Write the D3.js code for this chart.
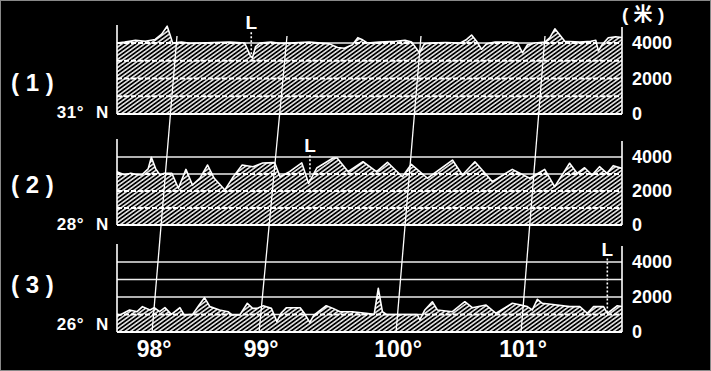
<!DOCTYPE html>
<html>
<head>
<meta charset="utf-8">
<script src="https://cdn.jsdelivr.net/npm/d3@7"></script>
<style>
  body { margin: 0; background: #000; }
  svg { display: block; }
</style>
</head>
<body>
<div id="chart"></div>
<script>
// longitudes, elevation ticks and labels
var lonTicks = [98, 99, 100, 101];
var elevTicks = [0, 2000, 4000];
var gridLevels = [1000, 2000, 3000, 4000];
var panelNames = ["( 1 )", "( 2 )", "( 3 )"];
var latNames = ["31°", "28°", "26°"];
var unitLabel = "( 米 )";

// terrain profiles: [longitude, elevation m]
var profile31 = [
  [97.51,4000],[97.58,4050],[97.68,4150],[97.77,4100],[97.86,4200],[97.92,4500],[97.97,4950],
  [98.00,4400],[98.02,4000],[98.10,4050],[98.18,3980],[98.27,4000],[98.40,4030],[98.54,4050],
  [98.68,4000],[98.73,3300],[98.75,3150],[98.78,3800],[98.82,4000],[98.92,4050],[99.00,3980],
  [99.07,4000],[99.22,4050],[99.37,3950],[99.43,3750],[99.48,3700],[99.54,3900],[99.58,4300],
  [99.61,4200],[99.65,4000],[99.74,4050],[99.86,4100],[99.93,4150],[99.98,4050],[100.04,3450],
  [100.08,3950],[100.13,4000],[100.25,4030],[100.37,4000],[100.42,4200],[100.46,4450],[100.50,4100],
  [100.54,3650],[100.58,3950],[100.65,4050],[100.77,4050],[100.83,4000],[100.87,3450],[100.91,3900],
  [100.97,4000],[101.05,4050],[101.09,4300],[101.13,4800],[101.17,4450],[101.21,4100],[101.33,4050],
  [101.42,4100],[101.46,4150],[101.48,3550],[101.51,3900],[101.56,4300],[101.62,4350],[101.67,4300]
];
var profile28 = [
  [97.59,3130],[97.66,2950],[97.72,3050],[97.76,2980],[97.82,2940],[97.88,3300],[97.91,3980],
  [97.95,3300],[97.99,2940],[98.03,3040],[98.10,3040],[98.16,2160],[98.23,3270],[98.29,2350],
  [98.36,2760],[98.43,3530],[98.49,2760],[98.59,2060],[98.66,2760],[98.75,3530],[98.85,3430],
  [98.94,3650],[99.04,3670],[99.08,2840],[99.15,3140],[99.24,3650],[99.29,2450],[99.35,3350],
  [99.47,3940],[99.50,3940],[99.58,3140],[99.69,3720],[99.79,3140],[99.87,3690],[99.98,2840],
  [100.05,3570],[100.18,2750],[100.38,3820],[100.46,2940],[100.56,3720],[100.70,2550],[100.86,3270],
  [101.00,2750],[101.12,3270],[101.20,2250],[101.32,3630],[101.38,3040],[101.44,3370],[101.50,2940],
  [101.56,3430],[101.62,3040],[101.67,3490],[101.74,3330]
];
var profile26 = [
  [97.67,1010],[97.70,970],[97.79,1260],[97.86,1160],[97.91,1450],[97.98,1260],[98.02,1390],
  [98.07,1160],[98.12,1390],[98.18,1010],[98.26,1390],[98.30,970],[98.38,1010],[98.44,1540],
  [98.49,1960],[98.54,1450],[98.63,1260],[98.71,1160],[98.75,970],[98.82,970],[98.89,1640],
  [98.94,1350],[98.98,1350],[99.03,1500],[99.09,1350],[99.13,590],[99.16,1070],[99.20,1390],
  [99.30,1390],[99.33,1070],[99.37,550],[99.40,970],[99.49,1500],[99.54,1350],[99.59,1160],
  [99.68,1160],[99.78,1070],[99.84,1010],[99.87,2500],[99.90,1160],[99.93,1000],[100.17,1000],
  [100.19,690],[100.23,1260],[100.29,1730],[100.33,1260],[100.45,1160],[100.55,1730],[100.61,1390],
  [100.72,1540],[100.80,1070],[100.93,1640],[100.99,1550],[101.05,1450],[101.09,1260],[101.13,1870],
  [101.17,1640],[101.39,1450],[101.47,1450],[101.53,1070],[101.58,1450],[101.66,1450],[101.69,1070],
  [101.77,1500],[101.81,1450]
];
var profiles = [profile31, profile28, profile26];
// "L" markers: [longitude, elevation where the dotted line starts]
var markerL = [[98.74, 4600], [99.30, 4100], [101.69, 4200]];

// layout
var W = 711, H = 371;
var left = 117, right = 622;
var panels = [
  {base: 114, top: 43, name: 91, lat: 118},
  {base: 225, top: 157, name: 193, lat: 230},
  {base: 332, top: 262, name: 293, lat: 330}
];
// slanted meridians: x at the top and bottom of the figure
var merTopY = 36, merBotY = 333;
var merTop = d3.scaleLinear().domain(lonTicks).range([177, 287, 421, 545]);
var merBot = d3.scaleLinear().domain(lonTicks).range([152, 259, 396, 521]);

function meridianX(lon, yy) {
  var t = (yy - merTopY) / (merBotY - merTopY);
  return merTop(lon) + (merBot(lon) - merTop(lon)) * t;
}
function panelX(yy) {
  return d3.scaleLinear().domain(lonTicks).range(lonTicks.map(function(l){ return meridianX(l, yy); }));
}

var FONT = "'Liberation Sans', Arial, Helvetica, sans-serif";
var svg = d3.select("#chart").append("svg")
    .attr("width", W).attr("height", H)
    .style("background", "#000");
var defs = svg.append("defs");

var pat = defs.append("pattern")
    .attr("id", "hatch")
    .attr("patternUnits", "userSpaceOnUse")
    .attr("width", 8).attr("height", 3.3)
    .attr("patternTransform", "rotate(-36)");
pat.append("rect").attr("width", 8).attr("height", 3.3).attr("fill", "#000");
pat.append("line")
    .attr("x1", 0).attr("y1", 1.65).attr("x2", 8).attr("y2", 1.65)
    .attr("stroke", "#e4e4e4").attr("stroke-width", 1.6);

// thin frame round the picture
svg.append("rect")
    .attr("x", 0.5).attr("y", 0.5).attr("width", W - 1).attr("height", H - 1)
    .attr("fill", "none").attr("stroke", "#888").attr("stroke-width", 1);

panels.forEach(function(p, i) {
  var y = d3.scaleLinear().domain([0, 4000]).range([p.base, p.top]);
  var x = panelX(p.base);
  var data = profiles[i];
  var area = d3.area().x(function(d){ return x(d[0]); }).y0(y(0)).y1(function(d){ return y(d[1]); });
  var line = d3.line().x(function(d){ return x(d[0]); }).y(function(d){ return y(d[1]); });

  defs.append("clipPath").attr("id", "panel" + i)
    .append("rect").attr("x", left).attr("y", 0).attr("width", right - left).attr("height", p.base + 1);
  defs.append("clipPath").attr("id", "land" + i)
    .append("path").attr("d", area(data));

  var g = svg.append("g");

  // grid lines (solid in the sky)
  g.append("g").selectAll("line")
    .data(gridLevels).enter().append("line")
    .attr("x1", left).attr("x2", right)
    .attr("y1", function(d){ return y(d); }).attr("y2", function(d){ return y(d); })
    .attr("stroke", "#eee").attr("stroke-width", 1.5);

  var land = g.append("g").attr("clip-path", "url(#panel" + i + ")");
  land.append("path").attr("d", area(data)).attr("fill", "url(#hatch)");

  // grid lines (dashed inside the hatched ground)
  g.append("g").attr("clip-path", "url(#land" + i + ")").selectAll("line")
    .data(gridLevels).enter().append("line")
    .attr("x1", left).attr("x2", right)
    .attr("y1", function(d){ return y(d); }).attr("y2", function(d){ return y(d); })
    .attr("stroke", "#fff").attr("stroke-width", 2)
    .attr("stroke-dasharray", "5,2");

  land.append("path").attr("d", line(data))
    .attr("fill", "none").attr("stroke", "#fff").attr("stroke-width", 1.6)
    .attr("stroke-linejoin", "round");

  // base line and side axes
  g.append("line").attr("x1", left).attr("x2", right).attr("y1", y(0)).attr("y2", y(0))
    .attr("stroke", "#fff").attr("stroke-width", 2);
  g.append("line").attr("x1", left).attr("x2", left).attr("y1", y(4000) - 18).attr("y2", y(0))
    .attr("stroke", "#fff").attr("stroke-width", 1.6);
  g.append("line").attr("x1", right).attr("x2", right).attr("y1", y(4000) - 16).attr("y2", y(0))
    .attr("stroke", "#fff").attr("stroke-width", 1.6);

  // elevation labels on the right
  g.selectAll(".elev")
    .data(elevTicks).enter().append("text")
    .attr("x", 632).attr("y", function(d){ return y(d); })
    .attr("dy", "0.36em")
    .attr("fill", "#fff").attr("font-family", FONT).attr("font-weight", "bold").attr("font-size", 18)
    .text(function(d){ return d; });

  // L marker
  var m = markerL[i];
  var ground = data.reduce(function(a, b){ return Math.abs(b[0] - m[0]) < Math.abs(a[0] - m[0]) ? b : a; });
  g.append("line")
    .attr("x1", x(m[0])).attr("x2", x(m[0]))
    .attr("y1", y(m[1])).attr("y2", y(ground[1]))
    .attr("stroke", "#fff").attr("stroke-width", 1.6).attr("stroke-dasharray", "2,2");
  g.append("text")
    .attr("x", x(m[0])).attr("y", y(m[1]) - 3)
    .attr("text-anchor", "middle")
    .attr("fill", "#fff").attr("font-family", FONT).attr("font-weight", "bold").attr("font-size", 19)
    .text("L");

  // panel name and latitude
  g.append("text").attr("x", 11).attr("y", p.name)
    .attr("fill", "#fff").attr("font-family", FONT).attr("font-weight", "bold").attr("font-size", 24)
    .attr("xml:space", "preserve")
    .text(panelNames[i]);
  g.append("text").attr("x", 84).attr("y", p.lat).attr("text-anchor", "end")
    .attr("fill", "#fff").attr("font-family", FONT).attr("font-weight", "bold").attr("font-size", 17)
    .attr("letter-spacing", 0.5)
    .text(latNames[i]);
  g.append("text").attr("x", 96).attr("y", p.lat)
    .attr("fill", "#fff").attr("font-family", FONT).attr("font-weight", "bold").attr("font-size", 17)
    .text("N");
});

// slanted meridians across all three profiles
svg.append("g").selectAll("line")
  .data(lonTicks).enter().append("line")
  .attr("x1", function(d){ return meridianX(d, merTopY); }).attr("y1", merTopY)
  .attr("x2", function(d){ return meridianX(d, merBotY); }).attr("y2", merBotY)
  .attr("stroke", "#fff").attr("stroke-width", 1.3);

// longitude labels
var xBottom = panelX(panels[2].base);
svg.append("g").selectAll("text")
  .data(lonTicks).enter().append("text")
  .attr("x", function(d){ return xBottom(d) + 2; }).attr("y", 357)
  .attr("text-anchor", "middle")
  .attr("fill", "#fff").attr("font-family", FONT).attr("font-weight", "bold").attr("font-size", 23)
  .text(function(d){ return d + "°"; });

// unit
svg.append("text").attr("x", 622).attr("y", 21)
  .attr("fill", "#fff")
  .attr("font-family", "'Liberation Sans', 'Noto Sans CJK SC', sans-serif")
  .attr("font-weight", "bold").attr("font-size", 19)
  .attr("xml:space", "preserve")
  .text(unitLabel);
</script>
</body>
</html>
